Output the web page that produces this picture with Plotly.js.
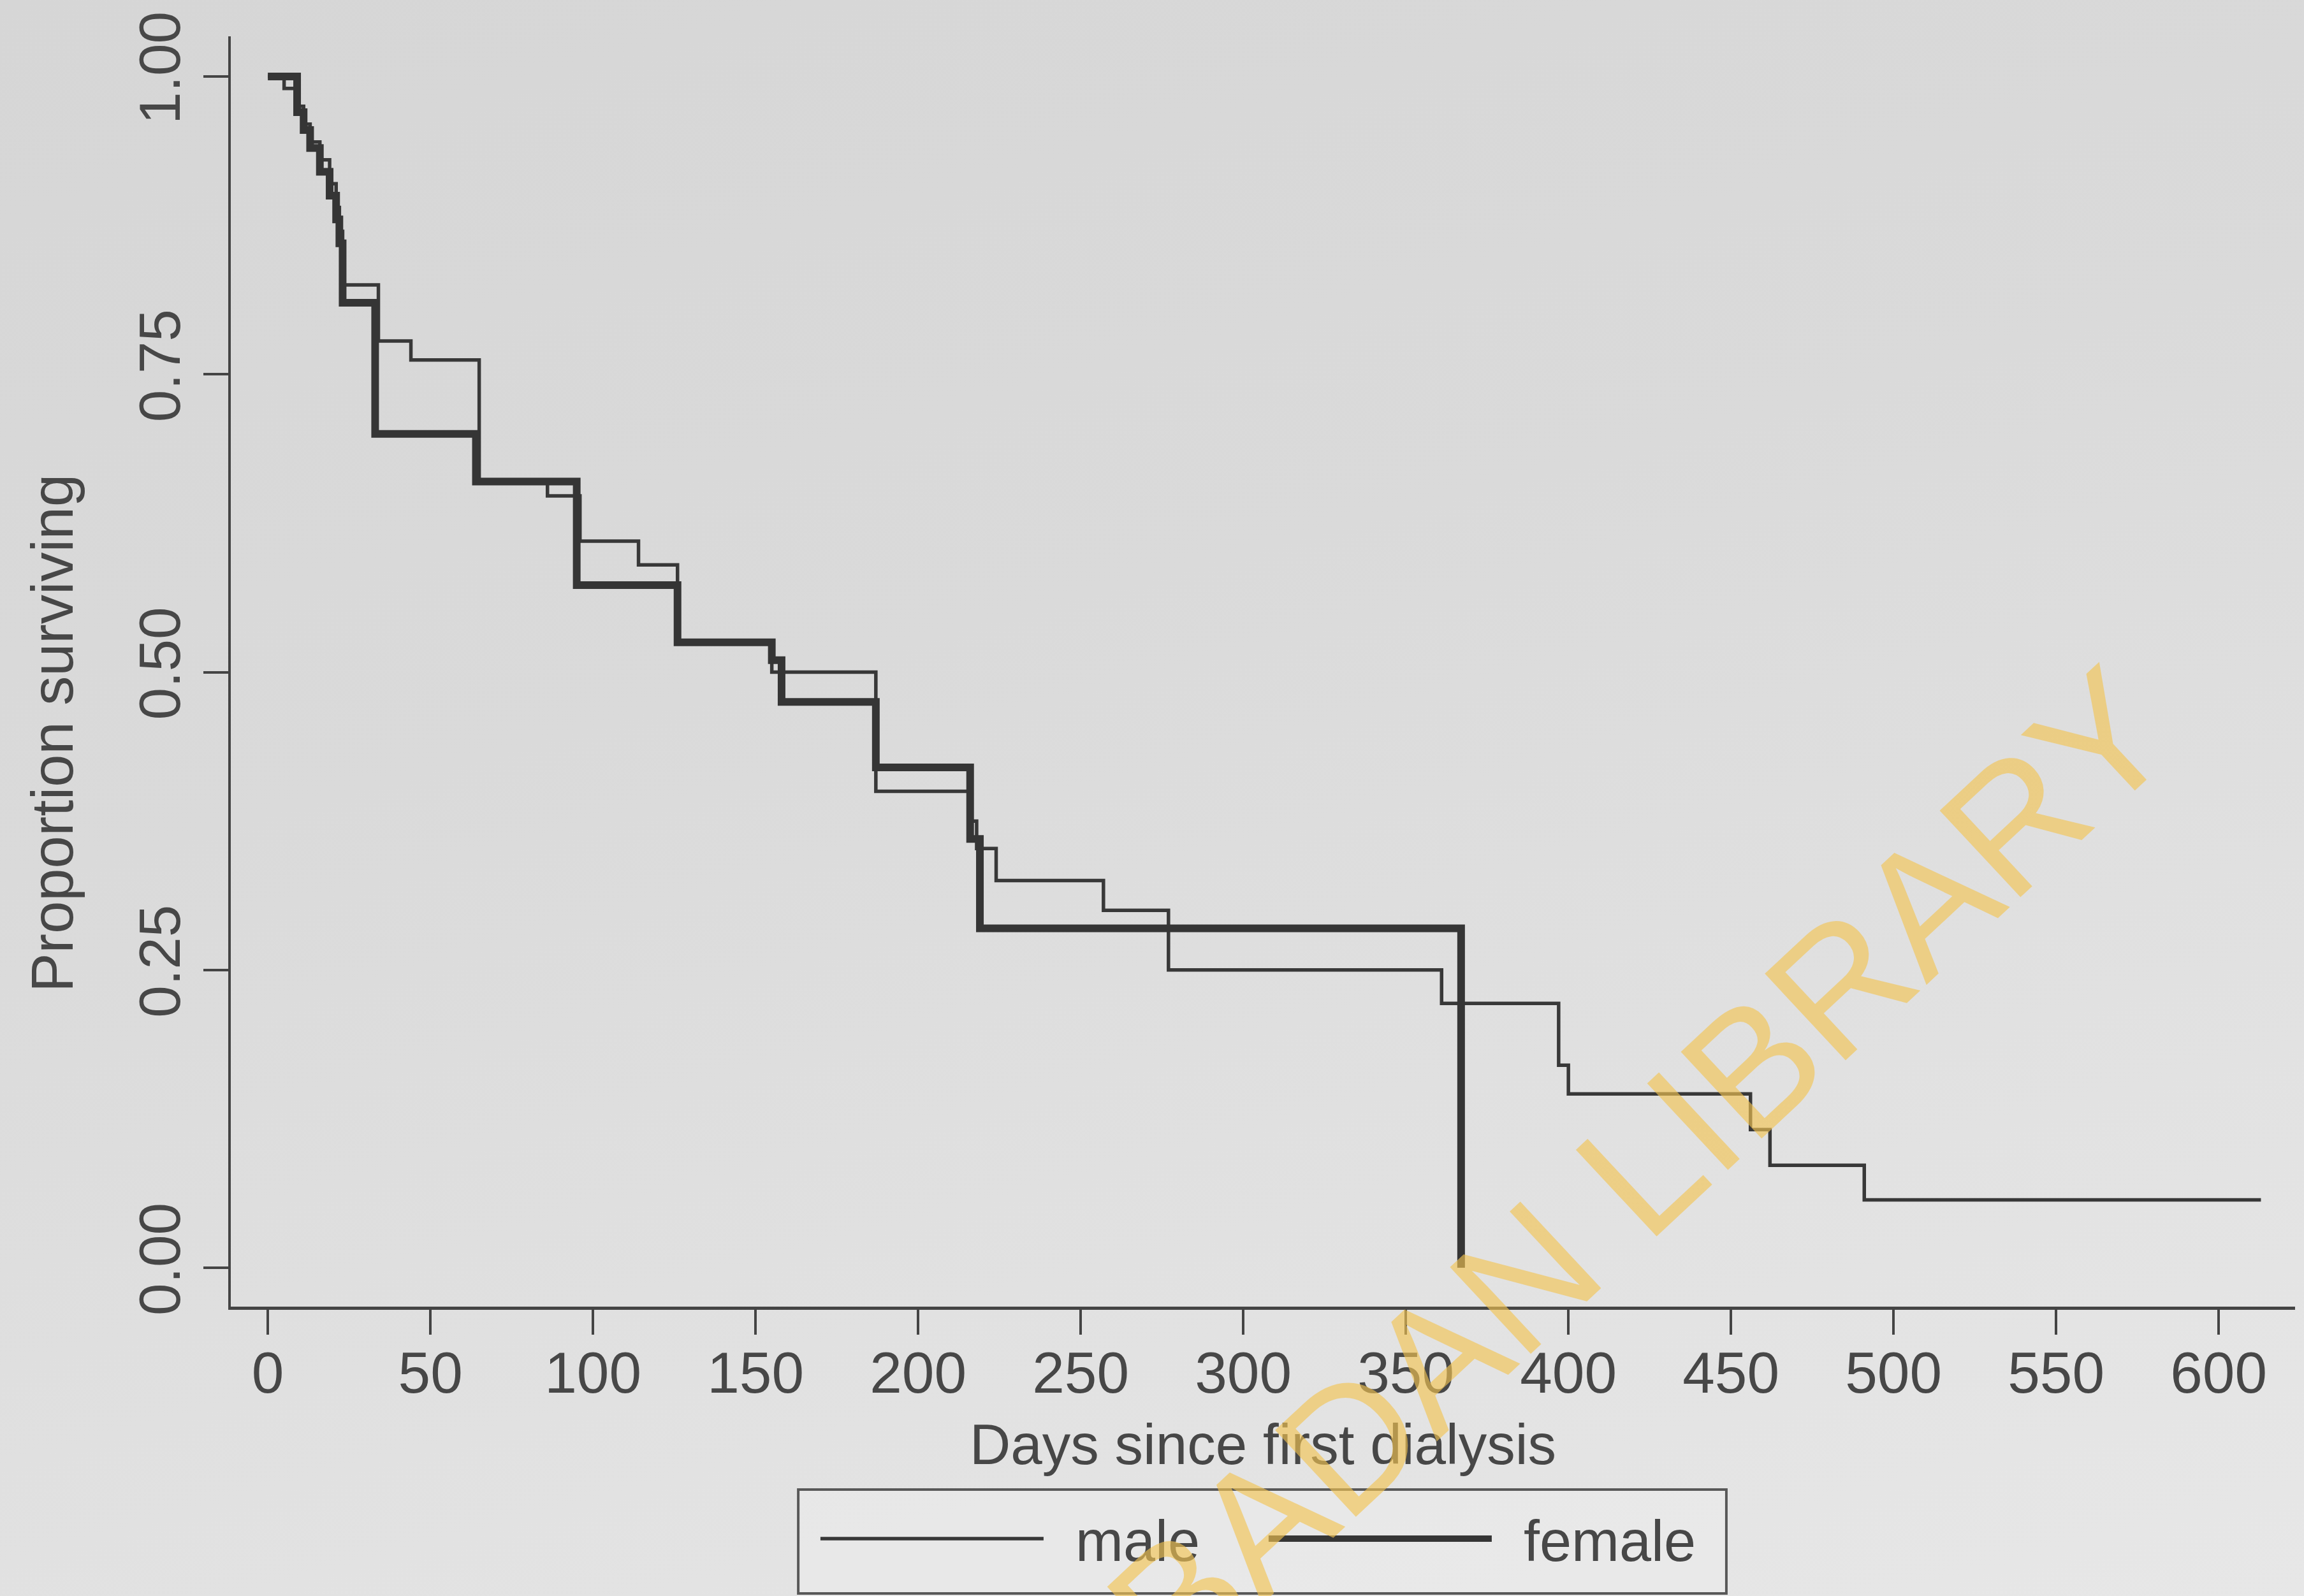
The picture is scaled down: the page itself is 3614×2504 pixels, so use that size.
<!DOCTYPE html>
<html>
<head>
<meta charset="utf-8">
<script src="https://cdn.plot.ly/plotly-3.0.1.min.js"></script>
<style>
  html, body { margin: 0; padding: 0; }
  body {
    width: 3614px; height: 2504px; overflow: hidden;
    background: linear-gradient(165deg, #d6d6d6 0%, #dadada 40%, #e2e2e2 75%, #e7e7e7 100%);
  }
  #chart { width: 3614px; height: 2504px; }
</style>
</head>
<body>
<div id="chart"></div>
<script>
// ---- data (Kaplan-Meier estimates) ----
const maleDays = [0, 5, 9, 11, 13, 16, 19, 21, 22, 23, 34, 44, 65, 86, 96, 114, 126, 155, 187, 216, 218, 224, 257, 277, 361, 397, 400, 456, 462, 491, 613];
const maleSurv = [1.0, 0.99, 0.975, 0.96, 0.945, 0.93, 0.91, 0.89, 0.87, 0.825, 0.778, 0.762, 0.66, 0.648, 0.61, 0.59, 0.525, 0.50, 0.40, 0.375, 0.352, 0.325, 0.30, 0.25, 0.222, 0.17, 0.146, 0.116, 0.086, 0.057, 0.057];

const femaleDays = [0, 9, 11, 13, 16, 19, 21, 22, 23, 33, 64, 95, 126, 155, 158, 187, 216, 219, 367];
const femaleSurv = [1.0, 0.97, 0.955, 0.94, 0.92, 0.90, 0.88, 0.86, 0.81, 0.70, 0.66, 0.573, 0.525, 0.51, 0.475, 0.42, 0.36, 0.285, 0.0];

const seriesNames = ["male", "female"];
const xTickVals = [0, 50, 100, 150, 200, 250, 300, 350, 400, 450, 500, 550, 600];
const yTickVals = [0, 0.25, 0.5, 0.75, 1];
const yTickText = ["0.00", "0.25", "0.50", "0.75", "1.00"];

const FONT = "Liberation Sans, Arial, Helvetica, sans-serif";
const INK = "#474747";
const GAP = "\u2002"; // spacing between legend sample and its label

const traces = [
  {
    x: maleDays, y: maleSurv, name: GAP + seriesNames[0], type: "scatter", mode: "lines",
    line: { shape: "hv", width: 5.5, color: "#383838" }
  },
  {
    x: femaleDays, y: femaleSurv, name: GAP + seriesNames[1], type: "scatter", mode: "lines",
    line: { shape: "hv", width: 12, color: "#353535" }
  }
];

const layout = {
  width: 3614, height: 2504,
  margin: { l: 362, r: 14, t: 57, b: 454, pad: 0 },
  paper_bgcolor: "rgba(0,0,0,0)",
  plot_bgcolor: "rgba(0,0,0,0)",
  font: { family: FONT, color: INK, size: 91 },
  showlegend: true,
  xaxis: {
    range: [-11.4, 623.5],
    tickmode: "array", tickvals: xTickVals,
    showline: true, linewidth: 4.5, linecolor: "#444",
    ticks: "outside", ticklen: 39, tickwidth: 4, tickcolor: "#444",
    ticklabelstandoff: -18,
    showgrid: false, zeroline: false,
    tickfont: { family: FONT, size: 91, color: INK },
    title: { text: "Days since first dialysis", font: { family: FONT, size: 89, color: INK }, standoff: 33 }
  },
  yaxis: {
    range: [-0.0326, 1.0337],
    tickmode: "array", tickvals: yTickVals, ticktext: yTickText,
    tickangle: -90,
    showline: true, linewidth: 4.5, linecolor: "#444",
    ticks: "outside", ticklen: 39, tickwidth: 4, tickcolor: "#444",
    showgrid: false, zeroline: false,
    tickfont: { family: FONT, size: 91, color: INK }
  },
  legend: {
    orientation: "h",
    x: 0.2841, xanchor: "left",
    y: -0.150, yanchor: "top",
    bgcolor: "rgba(0,0,0,0)",
    borderwidth: 0,
    font: { family: FONT, size: 90, color: INK },
    itemwidth: 350,
    entrywidth: 338
  },
  shapes: [
    {
      type: "rect", xref: "paper", yref: "paper", layer: "below",
      x0: 0.2749, x1: 0.7245, y0: -0.2258, y1: -0.1440,
      line: { color: "#585858", width: 4 },
      fillcolor: "rgba(238,238,238,0.45)"
    }
  ],
  annotations: [
    {
      text: "Proportion surviving", textangle: -90,
      xref: "paper", yref: "paper", x: -0.0865, y: 0.4516,
      xanchor: "center", yanchor: "middle", showarrow: false,
      font: { family: FONT, size: 92, color: INK }
    },
    {
      text: "IBADAN LIBRARY", textangle: -43,
      xref: "paper", yref: "paper", x: 0.674, y: 0.094,
      xanchor: "center", yanchor: "middle", showarrow: false,
      font: { family: FONT, size: 270, color: "rgba(242,196,82,0.64)" }
    }
  ]
};

Plotly.newPlot("chart", traces, layout, { displayModeBar: false, staticPlot: true });
</script>
</body>
</html>
